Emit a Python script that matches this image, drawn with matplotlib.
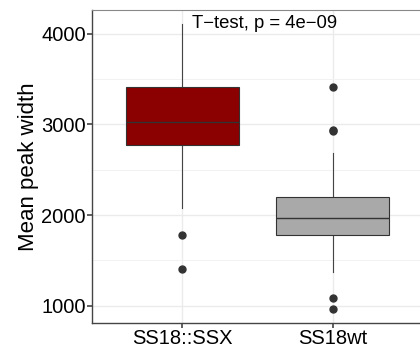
import matplotlib
matplotlib.use("Agg")
import matplotlib.pyplot as plt
from matplotlib.ticker import MultipleLocator

plt.rcParams['font.family'] = ['Liberation Sans', 'DejaVu Sans']

# box statistics
groups = ['SS18::SSX', 'SS18wt']
q1 = [2776, 1783]
median = [3030, 1964]
q3 = [3409, 2195]
whisker_low = [2073, 1375]
whisker_high = [4103, 2683]
outliers = [[1784, 1405], [3416, 2937, 2925, 1085, 964]]
fill_colors = ['#8B0000', '#A9A9A9']
annotation = 'T\u2212test, p = 4e\u221209'

fig = plt.figure(figsize=(4.2, 3.49), dpi=100)
ax = fig.add_axes([92 / 420, 26 / 349, 331 / 420, 313 / 349])

positions = list(range(1, len(groups) + 1))
stats = []
for i, g in enumerate(groups):
    stats.append(dict(label=g, q1=q1[i], med=median[i], q3=q3[i],
                      whislo=whisker_low[i], whishi=whisker_high[i],
                      fliers=outliers[i]))

bp = ax.bxp(stats, positions=positions, widths=0.75, patch_artist=True,
            showcaps=False,
            boxprops=dict(edgecolor='#333333', linewidth=0.8),
            medianprops=dict(color='#333333', linewidth=1.0),
            whiskerprops=dict(color='#444444', linewidth=0.8),
            flierprops=dict(marker='o', markersize=5, markerfacecolor='#333333',
                            markeredgecolor='#333333'))
for patch, c in zip(bp['boxes'], fill_colors):
    patch.set_facecolor(c)
for w in bp['whiskers']:
    w.set_zorder(1)

ax.set_xlim(0.4, 2.6)
ax.set_ylim(809, 4261)
ax.yaxis.set_major_locator(MultipleLocator(1000))
ax.yaxis.set_minor_locator(MultipleLocator(500))
ax.set_xticks(positions)
ax.set_xticklabels(groups)

ax.set_axisbelow(True)
ax.grid(True, which='major', color='#ebebeb', linewidth=1.0)
ax.grid(True, which='minor', axis='y', color='#f2f2f2', linewidth=0.7)
ax.tick_params(axis='both', which='major', labelsize=14.5, labelcolor='black',
               color='#333333', length=3.5, width=1.1, pad=1)
ax.tick_params(axis='y', which='minor', length=0)

for side in ['left', 'bottom']:
    ax.spines[side].set_color('#444444')
    ax.spines[side].set_linewidth(1.0)
ax.spines['top'].set_color('#888888')
ax.spines['right'].set_visible(False)

ax.set_ylabel('Mean peak width', fontsize=16, labelpad=1.5)
ax.text(1.065, 4107, annotation, fontsize=13.3, ha='left', va='center')

plt.savefig('out.png', dpi=100)
